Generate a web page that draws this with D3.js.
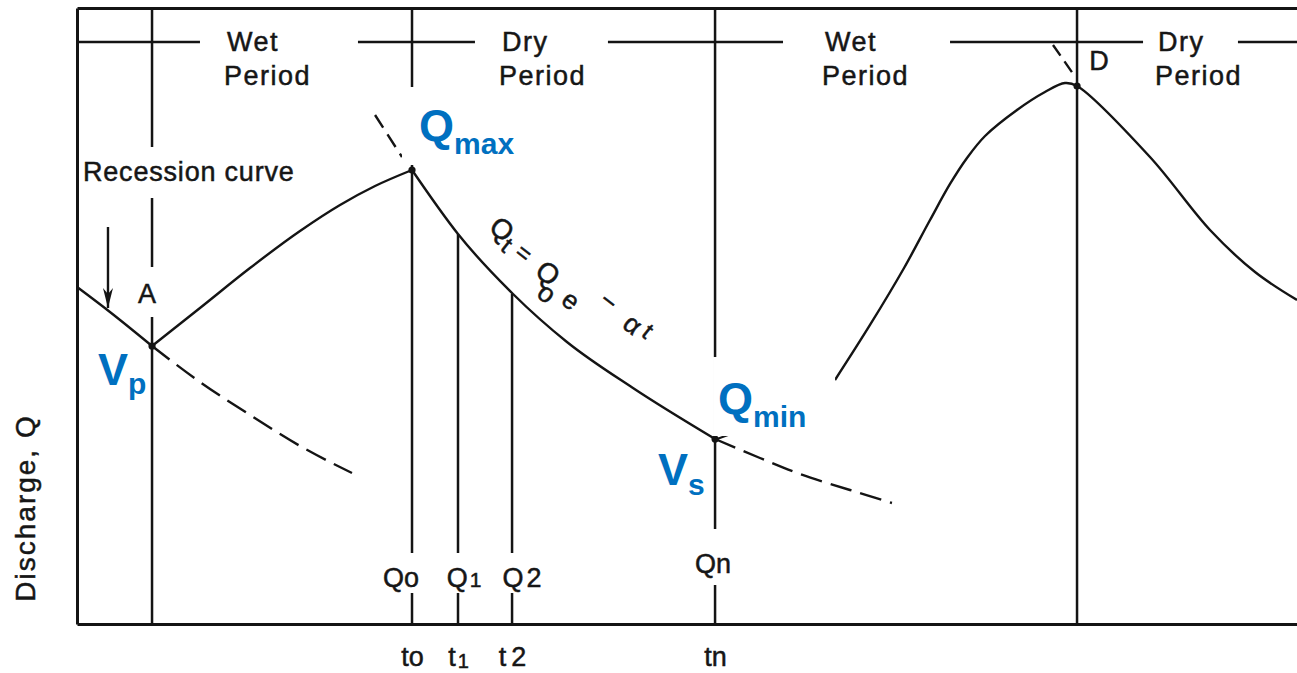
<!DOCTYPE html>
<html>
<head>
<meta charset="utf-8">
<script src="https://cdn.jsdelivr.net/npm/d3@7"></script>
<style>
  body { margin: 0; background: #fff; }
  svg { display: block; }
  .scan { font-family: "Liberation Sans", Arial, sans-serif; fill: #161616; stroke: #161616; stroke-width: 0.5px; }
  .blue { font-family: "Liberation Sans", Arial, sans-serif; font-weight: bold; fill: #0070C0; }
</style>
</head>
<body>
<div id="chart"></div>
<script>
// time t and discharge Q are both given in % of the frame (0..100)

// key instants on the hydrograph
var eventNames = ["A", "t0", "t1", "t2", "tn", "D"];
var eventT     = [6.15, 27.46, 31.23, 35.66, 52.30, 81.97];
var eventQ     = [45.13, 73.70, 63.31, 53.57, 30.03, 87.34];
var eventFull  = [true, true, false, false, true, true];   // line runs to the top of the frame
var eventDot   = [true, true, false, false, true, true];

// bottom axis
var tickT      = [27.46, 31.23, 35.66, 52.30];
var tickLabels = ["to", "t1", "t2", "tn"];
var qLabels    = ["Qo", "Q1", "Q2", "Qn"];

// curves [t, Q]
var recession1    = [[0, 54.71], [2.70, 50.65], [6.15, 45.13]];
var recession1Ext = [[6.15, 45.13], [10.08, 39.29], [14.18, 33.93], [18.28, 28.90], [22.54, 24.51]];
var risingLimb1   = [[6.15, 45.13], [10.08, 51.30], [14.18, 57.79], [18.28, 63.80], [21.56, 68.02], [24.43, 71.10], [27.46, 73.70]];
var recession2    = [[27.46, 73.70], [31.23, 63.31], [35.74, 53.57], [40.16, 45.78], [45.57, 38.31], [52.30, 30.03]];
var recession2Ext = [[52.30, 30.03], [55.98, 26.95], [59.26, 24.35], [63.36, 21.75], [66.80, 19.64]];
var hydrograph2   = [[62.13, 39.61], [65.00, 48.54], [67.79, 57.79], [69.92, 65.58], [71.56, 71.43], [72.95, 75.65],
                     [74.43, 79.22], [77.05, 83.44], [79.34, 86.36], [80.98, 87.82], [81.97, 87.34],
                     [87.95, 75.81], [92.87, 63.96], [96.56, 57.14], [100, 52.60]];
var peakExt1      = [[24.43, 82.63], [26.64, 75.81]];
var peakExt2      = [[80.0, 93.99], [81.72, 89.12]];
var arrowLeft     = [[2.54, 64.45], [2.54, 51.30]];

// period band along the top
var periodNames = ["Wet", "Dry", "Wet", "Dry"];
var periodT     = [12.05, 34.59, 61.07, 88.36];
var periodQ     = 94.5;
var periodLine  = [[0, 10.08], [23.03, 32.62], [43.52, 57.87], [71.56, 87.38], [95.16, 100]];

var W = 1297, H = 673;
var svg = d3.select("#chart").append("svg").attr("width", W).attr("height", H);

var x = d3.scaleLinear().domain([0, 100]).range([77, 1297]);
var y = d3.scaleLinear().domain([0, 100]).range([624, 8]);

var smooth = d3.line().x(function (d) { return x(d[0]); }).y(function (d) { return y(d[1]); }).curve(d3.curveMonotoneX);
var rounded = d3.line().x(function (d) { return x(d[0]); }).y(function (d) { return y(d[1]); }).curve(d3.curveCatmullRom.alpha(0.5));
var straight = d3.line().x(function (d) { return x(d[0]); }).y(function (d) { return y(d[1]); });

var ink = "#141414";

// frame: left, top, bottom
svg.append("g").attr("transform", "translate(" + x(0) + ",0)")
    .call(d3.axisLeft(y).tickValues([]).tickSizeOuter(0));
svg.append("g").attr("transform", "translate(0," + y(100) + ")")
    .call(d3.axisTop(x).tickValues([]).tickSizeOuter(0));
var xAxis = svg.append("g").attr("transform", "translate(0," + y(0) + ")")
    .call(d3.axisBottom(x).tickValues(tickT).tickSize(0).tickPadding(23).tickSizeOuter(0)
        .tickFormat(function (d, i) { return tickLabels[i]; }));
svg.selectAll(".domain").attr("stroke", ink).attr("stroke-width", 3);

xAxis.selectAll(".tick text")
    .attr("class", "scan")
    .style("font-size", "27px")
    .attr("font-family", null)
    .each(function (d, i) {
        var lab = tickLabels[i], t = d3.select(this);
        t.text(null);
        t.append("tspan").text(lab[0]);
        var sub = t.append("tspan").text(lab.slice(1));
        if (lab[1] === "1") sub.style("font-size", "20px").attr("dy", 2).attr("dx", 2);
        if (lab[1] === "2") sub.attr("dx", 5);
    });

// period line
svg.append("g").selectAll("line").data(periodLine).enter().append("line")
    .attr("x1", function (d) { return x(d[0]); })
    .attr("x2", function (d) { return x(d[1]); })
    .attr("y1", y(periodQ)).attr("y2", y(periodQ))
    .attr("stroke", ink).attr("stroke-width", 2.5);

// vertical lines at the key instants
svg.append("g").selectAll("line").data(eventT).enter().append("line")
    .attr("x1", function (d) { return x(d); })
    .attr("x2", function (d) { return x(d); })
    .attr("y1", y(0))
    .attr("y2", function (d, i) { return eventFull[i] ? y(100) : y(eventQ[i]); })
    .attr("stroke", ink).attr("stroke-width", 2.5);

// curves
function drawCurve(data, gen, dash) {
    svg.append("path").datum(data)
        .attr("d", gen)
        .attr("fill", "none")
        .attr("stroke", ink)
        .attr("stroke-width", 2.4)
        .attr("stroke-dasharray", dash || null);
}
drawCurve(recession1, smooth);
drawCurve(recession1Ext, smooth, "22,9");
drawCurve(risingLimb1, smooth);
drawCurve(recession2, smooth);
drawCurve(recession2Ext, rounded, "22,9");
drawCurve(hydrograph2, rounded);
drawCurve(peakExt1, straight, "15,8");
drawCurve(peakExt2, straight, "13,7");

// arrow pointing to the recession curve
drawCurve(arrowLeft, straight);
var tip = [x(arrowLeft[1][0]), y(arrowLeft[1][1])];
svg.append("path")
    .attr("d", "M" + tip[0] + "," + tip[1] + "l-5,-20l5,6l5,-6z")
    .attr("fill", ink);

// small arrow at the minimum
var tnP = [x(eventT[4]), y(eventQ[4])];
svg.append("line")
    .attr("x1", tnP[0] + 2).attr("y1", tnP[1])
    .attr("x2", tnP[0] + 24).attr("y2", tnP[1] - 8)
    .attr("stroke", ink).attr("stroke-width", 2);

// dots
svg.append("g").selectAll("circle").data(eventT.filter(function (d, i) { return eventDot[i]; }))
    .enter().append("circle")
    .attr("cx", function (d) { return x(d); })
    .attr("cy", function (d) { return y(eventQ[eventT.indexOf(d)]); })
    .attr("r", 3.6).attr("fill", ink);

// scanned text with a white knock-out behind it
function scanText(px, py, txt, opt) {
    opt = opt || {};
    var g = svg.append("g");
    var bg = g.append("rect").attr("fill", "#fff");
    var t = g.append("text").attr("class", "scan")
        .attr("x", px).attr("y", py)
        .attr("text-anchor", opt.anchor || "start")
        .style("font-size", (opt.size || 27) + "px")
        .style("letter-spacing", (opt.ls || 0) + "px")
        .text(txt);
    if (opt.knock) {
        var b = t.node().getBBox();
        bg.attr("x", b.x).attr("width", b.width)
          .attr("y", b.y - opt.knock[0]).attr("height", b.height + opt.knock[0] + opt.knock[1]);
    } else bg.remove();
    return t;
}

// period labels
periodNames.forEach(function (n, i) {
    scanText(x(periodT[i]) + 3, 51, n, { ls: 1.5 });
    scanText(x(periodT[i]), 85, "Period", { ls: 1.5 });
});

scanText(83, 181, "Recession curve", { ls: 0.8, knock: [10, 11] });
scanText(x(eventT[0]) - 5, 303, "A", { anchor: "middle", knock: [12, 8] });
scanText(x(eventT[5]) + 22, 70, "D", { anchor: "middle" });

// Q labels above the axis
var qOffsets = [-11, 6, 10, -2];
var qBase = [587, 587, 587, 573];
qLabels.forEach(function (q, i) {
    var t = scanText(x(tickT[i]) + qOffsets[i], qBase[i], "", { anchor: "middle", knock: null });
    t.append("tspan").text(q[0]);
    var s = t.append("tspan").text(q.slice(1));
    if (q[1] === "1") s.style("font-size", "21px").attr("dx", 2);
    if (q[1] === "2") s.attr("dx", 3);
    var b = t.node().getBBox();
    t.node().parentNode.insertBefore(
        d3.create("svg:rect").attr("fill", "#fff")
          .attr("x", b.x).attr("width", b.width)
          .attr("y", b.y - (i === 3 ? 20 : 10)).attr("height", b.height + (i === 3 ? 26 : 10)).node(),
        t.node());
});

// y axis title
svg.append("text").attr("class", "scan")
    .attr("transform", "translate(35,508) rotate(-90)")
    .attr("text-anchor", "middle")
    .style("font-size", "28px").style("letter-spacing", "2px")
    .text("Discharge, Q");

// formula along the recession curve
var t0P = [x(eventT[1]), y(eventQ[1])];
var glyphs = [["Q", 90, 59, 28], ["t", 95, 75, 24], ["=", 112, 83, 24], ["Q", 136, 103, 28], ["o", 135, 123, 27],
              ["e", 159, 130, 26], ["\u2212", 197, 131, 26], ["\u03b1", 221, 154, 27], ["t", 236, 161, 24]];
svg.append("g").selectAll("text").data(glyphs).enter().append("text")
    .attr("class", "scan")
    .attr("x", function (d) { return t0P[0] + d[1]; })
    .attr("y", function (d) { return t0P[1] + d[2]; })
    .attr("dy", "0.35em")
    .attr("text-anchor", "middle")
    .style("font-size", function (d) { return d[3] + "px"; })
    .attr("transform", function (d) { return "rotate(38," + (t0P[0] + d[1]) + "," + (t0P[1] + d[2]) + ")"; })
    .text(function (d) { return d[0]; });

// pasted blue labels (white boxes behind Qmax and Qmin)
svg.append("rect").attr("fill", "#fff")
    .attr("x", t0P[0] - 10).attr("y", t0P[1] - 83).attr("width", 128).attr("height", 78);
svg.append("rect").attr("fill", "#fff")
    .attr("x", tnP[0] - 2).attr("y", tnP[1] - 82).attr("width", 122).attr("height", 79);

function blueLabel(px, py, main, sub, subDy) {
    var t = svg.append("text").attr("class", "blue").attr("x", px).attr("y", py);
    t.append("tspan").style("font-size", "45px").text(main);
    t.append("tspan").style("font-size", "30px").attr("dy", subDy).text(sub);
}
var aP = [x(eventT[0]), y(eventQ[0])];
blueLabel(t0P[0] + 7, t0P[1] - 29, "Q", "max", 13);
blueLabel(tnP[0] + 3, tnP[1] - 25, "Q", "min", 13);
blueLabel(aP[0] - 54, aP[1] + 39, "V", "p", 9);
blueLabel(tnP[0] - 57, tnP[1] + 46, "V", "s", 10);
</script>
</body>
</html>
